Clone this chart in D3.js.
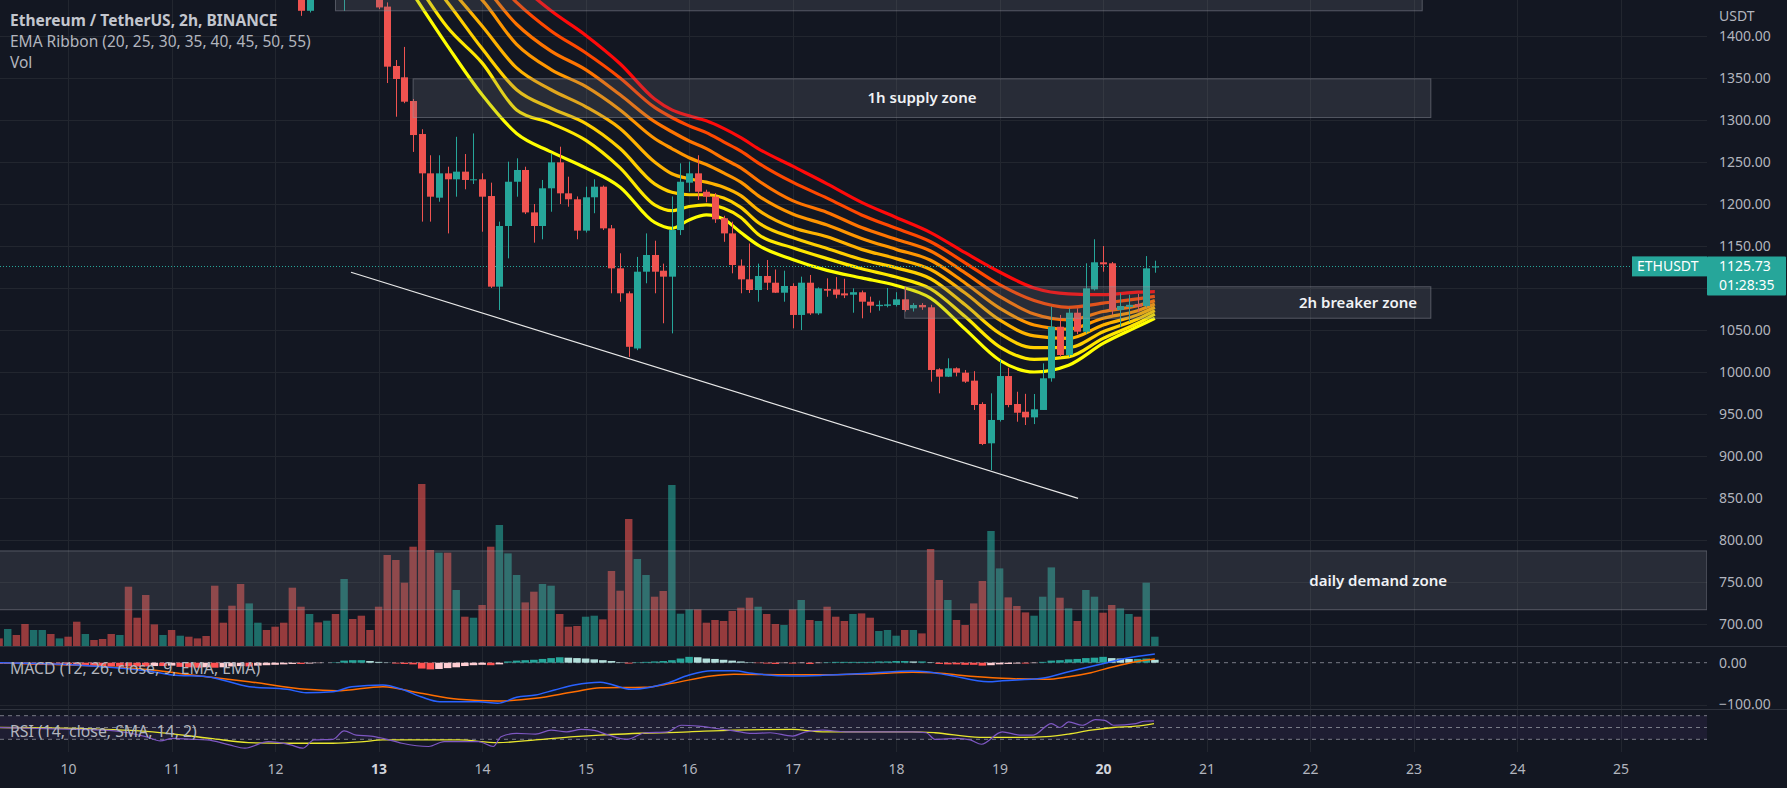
<!DOCTYPE html>
<html><head><meta charset="utf-8">
<script src="https://cdn.jsdelivr.net/npm/d3@7"></script>
<style>
html,body{margin:0;padding:0;background:#131722;overflow:hidden}
svg{display:block}
text{font-family:"Noto Sans","Open Sans",sans-serif}
</style></head><body>
<svg id="c" width="1787" height="788"></svg>
<script>
// ---------- DATA (bar index k: 2h bars, k=0 = Jun 10 00:00) ----------
const firstBar = -8;
const opens = [1795,1790,1797,1786,1765,1779,1788,1776,1785,1774,1735,1746,1740,1734,1720,1731,1680,1668,1652,1646,1658,1651,1657,1649,1645,1640,1590,1578,1552,1520,1552,1565,1556,1545,1528,1478,1430,1462,1455,1482,1466,1478,1462,1452,1448,1435,1364.3,1350.8,1322.6,1283.3,1236.5,1207.5,1236.5,1229.4,1238.5,1228.6,1229.4,1209.5,1101.6,1173.8,1226.5,1240.5,1190,1173.8,1218.7,1249.6,1212.7,1205.6,1168.3,1208,1220.6,1171,1123.4,1093.7,1028,1119.4,1139.3,1120.6,1113.5,1169,1225.4,1236.5,1214.6,1208.7,1183,1165,1126.6,1110.3,1097.6,1114.3,1106.3,1094.4,1102.4,1067.9,1106.3,1069.8,1098.8,1098.4,1093.6,1092,1094.9,1083.7,1078.4,1078.8,1079.8,1086.5,1075.8,1079.8,1077,1003.2,994.4,1004.4,999.2,989.7,961.9,915.1,942.9,995.2,961.9,952.7,946,954.8,992.5,1053.9,1020.2,1070.6,1048,1098.4,1130.6,1129.4,1073.8,1077.4,1080.9,1078.6,1124.5];
const highs = [1802,1800,1799,1790,1784,1792,1790,1789,1787,1776,1752,1748,1744,1738,1736,1733,1690,1672,1660,1662,1661,1660,1659,1652,1650,1642,1598,1582,1556,1560,1572,1568,1560,1548,1530,1482,1470,1475,1490,1486,1490,1482,1468,1460,1452,1440,1371.4,1387,1325,1289,1258,1258,1244.4,1280,1259.5,1284,1236.5,1225.4,1179,1250.4,1254.4,1244.4,1200,1228.6,1260,1268.2,1232.5,1209,1220.6,1229.4,1222,1175,1141.3,1096,1137,1165,1156.3,1129,1209,1248.4,1250.4,1258,1217,1213,1186,1179,1134,1153,1129,1133.3,1122,1120.6,1105.6,1113.5,1115.5,1100.8,1111.5,1113,1111,1099.6,1097,1089.7,1085,1100,1095,1100.8,1082,1082,1080,1004.5,1016.3,1005.5,1002.4,1001,964,974.6,1014.3,1005,976.5,974,973.8,1010.3,1077.8,1067.9,1075.8,1075.8,1129.4,1158,1150,1131,1093.7,1092,1093,1138,1132.5];
const lows = [1786,1785,1783,1760,1762,1775,1772,1774,1770,1728,1730,1736,1730,1715,1718,1672,1662,1640,1641,1644,1648,1649,1645,1641,1635,1580,1570,1545,1510,1518,1548,1550,1540,1520,1470,1424,1428,1450,1452,1462,1430,1455,1448,1444,1432,1344,1303.9,1320,1262,1179,1179,1202.7,1165,1208.7,1217.5,1223.8,1167,1100,1073.8,1135.3,1208.7,1188,1154,1158,1190.8,1200,1196.8,1158,1166,1189,1169,1093.7,1083.7,1018,1026,1105.6,1093.7,1058,1046,1163,1214.6,1204.8,1202,1177.5,1155,1117.5,1093.7,1094,1083.7,1097.6,1094,1083.7,1052,1050,1068,1068,1089.6,1087.7,1088,1070.6,1063.9,1070.6,1073,1077,1078,1072,1072,1074,988.5,974.6,994,994.8,987,954.8,913,883.3,941,958,940.8,936.9,938,954.8,988.5,1018,1018,1045,1046,1097,1119.4,1067.9,1054,1059.9,1071,1077,1118.2];
const closes = [1790,1797,1786,1765,1779,1788,1776,1785,1774,1735,1746,1740,1734,1720,1731,1680,1668,1652,1646,1658,1651,1657,1649,1645,1640,1590,1578,1552,1520,1552,1565,1556,1545,1528,1478,1430,1462,1455,1482,1468,1478,1462,1452,1448,1434,1363.5,1348.8,1321.8,1282.1,1236.5,1208.7,1236.5,1229.4,1238.5,1228.6,1229.4,1208.7,1101.6,1173.8,1226.5,1240.5,1190,1173.8,1218.7,1249.6,1212.7,1205.6,1168.3,1208,1220.6,1171,1123.4,1093.7,1030,1119.4,1139.3,1119.4,1113.5,1169,1226.5,1236.5,1214.6,1208.7,1181.7,1165,1127.4,1110.3,1097.6,1114.3,1106.3,1094.4,1102.4,1067.9,1106.3,1069.8,1099.6,1096.8,1092,1091.2,1095,1083.7,1079,1080,1080.5,1086.5,1073.8,1079.8,1077,1002.4,994.4,1004.4,999.2,988.5,960.7,914.3,942.9,995.2,960.7,951.5,946,955.6,992.5,1053.9,1020.2,1070.6,1048,1099.6,1130.6,1128.2,1073.8,1078.6,1080,1078,1123.4,1125.73];
const volumes = [8.3,17.7,11.7,22.7,16.7,16.7,12.7,8.3,10,25,12.7,6.7,7.7,12.7,11.7,60,29,51.7,22.3,11.7,16.7,11,10,8.3,10.7,61,24,41,62.7,43.3,24,16.7,20,24,59,40,32.7,24.3,26,32.7,67.7,27.7,31,16.7,40,91.7,86.7,64,100,162.7,96.7,94,94,56.7,30,29,41.7,100,121.7,93.3,71.7,44.3,55,62.7,61,32.7,20,20.7,30,31,27.3,75.7,56,127.7,87.7,71.7,50,55.7,161.7,33,37.3,37.3,24,26.7,25.7,35.7,39,49,40,32.7,22.7,21.7,37.3,46.7,26.7,25.7,40,30,25.7,32.7,33.3,29,15.7,16.7,11,16.7,16.7,13.3,97.7,66.7,46.7,26.7,21.7,43.3,65.7,115.7,78.3,49.3,40.7,34.3,31,50,79.3,49,38.3,25.7,56.7,50,34,41.7,38.3,32.7,30,64,10];
const macdHist = [-3,-3,-3,-4,-5,-5,-6,-6,-6,-7,-7,-8,-8,-8,-9,-9,-9,-9,-8,-8,-7,-10,-11,-12,-11,-12,-11,-9,-8,-9,-7,-6,-5,-4,-3,-3,-2,-1,0,1,5,6,6,4,2,0.5,-2,-3,-4,-14,-16,-15,-13,-11,-8,-6,-5,-6,-4,3,5,6,7,9,11,13,12,11,10,8,6,4,1,-2,1,2,3,4,6,10,14,13,10,9,7,5,3,1,-1,-2,-3,-1,-2,-1,-3,-1,1,2,2,2,2,2,3,3,4,4,3,3,1,-3,-4,-4,-5,-5,-7,-6,-4,-3,-2,-2,-1,2,5,6,8,9,11,12,14,11,10,9,9,10,7];

const macdLine = [[-8,0],[1,-5.5],[9.8,-21.5],[12.1,-29.4],[16.1,-33.5],[21,-57.4],[25.4,-63.6],[27.6,-71.8],[30.7,-69.4],[32.9,-57.4],[36.5,-53.3],[38.7,-63.6],[40.9,-81.3],[43.1,-93.3],[47.6,-93.3],[49.8,-97.2],[52,-82.8],[54.2,-77.3],[56.4,-65.3],[58.7,-53.3],[61.7,-46.5],[65.3,-63.6],[69.4,-49.3],[72,-29.4],[74.6,-19.1],[77.2,-19.1],[79.3,-25.4],[83.9,-31.8],[87.5,-30.2],[92.7,-25.4],[97.9,-19.9],[99.5,-21.5],[102,-29.4],[106.7,-45.5],[108.3,-43.1],[112.9,-37.3],[116,-21.5],[120.2,-1.4],[122.7,10.5],[126,20.8]];
const signalLine = [[-8,0],[9.8,-17.5],[14.3,-29.4],[21,-45.5],[27.6,-63.6],[31.1,-67],[36.5,-57.4],[40.9,-73.2],[45.3,-87.6],[49.8,-91.6],[54.2,-85.2],[58.7,-69.4],[61.7,-60],[66.8,-58.9],[70,-49.3],[74.6,-31.8],[77.2,-27.8],[82.4,-28.6],[87.5,-28.6],[92.7,-27],[97.9,-23],[100.5,-23.9],[103.1,-29.4],[108.3,-37.3],[113.4,-39.7],[116,-33.5],[118.6,-23.9],[121.2,-9.6],[123.8,2.4],[126,8.9]];
const rsiLine = [[-8,50],[-3.5,48.3],[1,46.7],[5.4,44.4],[9,34.4],[10.7,27.2],[12.1,31.6],[14.3,30],[16.1,28.9],[18.7,20.5],[20.5,15],[23.2,26.1],[25.8,20.5],[27.2,15],[28.5,28.9],[30.7,30],[32,44.4],[33.4,37.2],[35.1,35.5],[36.5,31.6],[38.7,23.3],[41.8,17.8],[43.6,26.1],[47.6,26.1],[49.3,17.8],[50.2,34.4],[52,40],[54.2,38.9],[56,45.5],[57.8,42.7],[59.5,46.7],[61,45],[62.5,38],[64.8,30],[66.9,41.1],[69.5,42.7],[71.1,53.8],[73.1,52.2],[75.2,48.3],[77.2,44.4],[79.3,40],[81.4,41.1],[84,35.5],[85.5,42.7],[87.5,45.5],[90.1,42.7],[92.7,42.7],[97.9,42.7],[99.5,41.1],[100.5,30],[103.1,31.6],[104.6,28.9],[105.9,21.6],[108.3,42.7],[110.3,37.2],[111.9,37.2],[114,56.7],[115,50],[116,59.4],[117.6,53.8],[119.1,63.3],[120.2,62.2],[121.2,53.8],[123.8,56.7],[124.8,60.6],[125.9,61.1]];
const rsiMA = [[-8,50],[1,48.3],[9.8,42.7],[16.5,31.6],[20.9,24.4],[25.4,23.3],[30.7,23.3],[34.3,26.1],[36.5,28.9],[40.9,28.9],[45.3,28.9],[49.8,24.4],[54.2,28.9],[58.7,34.4],[61.7,37.2],[72,42.7],[77.2,45.5],[84,46.7],[87.5,42.7],[97.9,42.7],[100.5,41.1],[105.7,33.3],[110.9,33.3],[113.4,34.4],[116,38.9],[118.6,45.5],[121.2,50],[123.8,52.2],[125.9,56.7]];

// EMA ribbon values read at bar index
const ribbonBars = [40,44,48,52,56,60,64,68,70,72,74,76,78,80,84,88,92,96,100,104,108,112,116,120,124,126];
const ema20 = [1450,1388,1330,1284,1262,1243,1220,1178,1171,1181,1187,1182,1166,1151,1134,1121,1112,1103,1088,1051,1014,1000,1008,1034,1054,1064];
const ema25 = [1470,1410,1368,1312,1296,1276,1243,1199,1192,1197,1199,1195,1184,1164,1148,1135,1123,1113,1099,1066,1030,1015,1018,1040,1058,1069];
const ema30 = [1490,1440,1385,1336,1314,1296,1266,1224,1214,1211,1211,1207,1196,1178,1160,1147,1134,1124,1111,1080,1046,1029,1029,1048,1063,1073];
const ema35 = [1505,1460,1412,1362,1336,1316,1290,1250,1236,1230,1226,1220,1210,1193,1172,1161,1146,1135,1122,1094,1062,1043,1040,1056,1068,1077];
const ema40 = [1515,1480,1443,1390,1360,1340,1312,1278,1266,1255,1247,1237,1226,1210,1188,1175,1159,1146,1133,1106,1076,1056,1051,1064,1073,1081];
const ema45 = [1525,1500,1462,1414,1382,1360,1330,1298,1286,1275,1266,1254,1243,1228,1204,1190,1172,1158,1144,1118,1090,1069,1062,1072,1079,1085];
const ema50 = [1540,1518,1485,1440,1406,1380,1350,1315,1303,1293,1285,1274,1263,1249,1226,1207,1187,1171,1155,1130,1104,1085,1077,1082,1087,1090];
const ema55 = [1560,1535,1510,1465,1430,1401,1367,1325,1312,1305,1299,1290,1279,1266,1245,1224,1202,1184,1166,1142,1119,1100,1093,1092,1095,1095.6];
const ribbonColors = ['#ffff00','#ffe800','#ffcf00','#ffb300','#ff9600','#ff7400','#ff4800','#ff0a0a'];

const days = [10,11,12,13,14,15,16,17,18,19,20,21,22,23,24,25];
const boldDays = [13,20];
const priceTicks = [1400,1350,1300,1250,1200,1150,1050,1000,950,900,850,800,750,700];
const priceGrid = [1400,1350,1300,1250,1200,1150,1100,1050,1000,950,900,850,800,750,700];
const zones = [
  {label:'', k0:31, k1:157, p0:1430, p1:1520},
  {label:'1h supply zone', k0:40, k1:158, p0:1303, p1:1349, lk:99, anchor:'middle'},
  {label:'2h breaker zone', k0:97, k1:158, p0:1064, p1:1101.5, lk:156.4, anchor:'end'},
  {label:'daily demand zone', k0:-8, k1:190, p0:717, p1:787, lk:151.9, anchor:'middle'}
];
const trendLine = [[32.8,1118.7],[117.1,849.6]];
const lastPrice = 1125.73;
const countdown = '01:28:35';

// ---------- LAYOUT ----------
const W=1787, H=788, PR=1707, MAIN_B=646.5, MACD_T=646.5, MACD_B=709.5, RSI_B=752;
const svg = d3.select('#c');
const x = d3.scaleLinear().domain([0,120]).range([68.1,1103.1]);
const xDay = d3.scaleLinear().domain([10,20]).range([x(0),x(120)]);
const y = d3.scaleLinear().domain([1000,1400]).range([372,36]);
const yVol = d3.scaleLinear().domain([0,100]).range([646.7,546.7]);
const yMacd = d3.scaleLinear().domain([0,-100]).range([662.7,704.5]);
const yRsi = d3.scaleLinear().domain([30,70]).range([739.3,715.7]);
const bw = (x(1)-x(0));

svg.append('rect').attr('width',W).attr('height',H).attr('fill','#131722');
const defs = svg.append('defs');
defs.append('clipPath').attr('id','cm').append('rect').attr('x',0).attr('y',0).attr('width',PR).attr('height',MAIN_B);
defs.append('clipPath').attr('id','cd').append('rect').attr('x',0).attr('y',MACD_T+0.5).attr('width',PR).attr('height',MACD_B-MACD_T-1);
defs.append('clipPath').attr('id','cr').append('rect').attr('x',0).attr('y',MACD_B+0.5).attr('width',PR).attr('height',RSI_B-MACD_B-0.5);

// grid
const grid = svg.append('g');
grid.selectAll('.hg').data(priceGrid).join('line')
  .attr('x1',0).attr('x2',PR).attr('y1',d=>Math.round(y(d))+0.5).attr('y2',d=>Math.round(y(d))+0.5)
  .attr('stroke','#22262f').attr('stroke-width',1);
grid.append('line').attr('x1',0).attr('x2',PR).attr('y1',Math.round(yMacd(-100))+0.5).attr('y2',Math.round(yMacd(-100))+0.5).attr('stroke','#22262f');
grid.selectAll('.vg').data(days).join('line')
  .attr('x1',d=>Math.round(xDay(d))+0.5).attr('x2',d=>Math.round(xDay(d))+0.5).attr('y1',0).attr('y2',RSI_B)
  .attr('stroke','#22262f').attr('stroke-width',1);

const bars = d3.range(opens.length).map(i=>({k:i+firstBar,o:opens[i],h:highs[i],l:lows[i],c:closes[i],v:volumes[i],m:macdHist[i]}));
const up = d=>d.c>=d.o;

// main pane
const main = svg.append('g').attr('clip-path','url(#cm)');
// volume
main.append('g').selectAll('rect').data(bars).join('rect')
  .attr('x',d=>x(d.k)-bw*0.43).attr('width',bw*0.86)
  .attr('y',d=>yVol(d.v)).attr('height',d=>yVol(0)-yVol(d.v))
  .attr('fill',d=>up(d)?'#26a69a':'#ef5350').attr('fill-opacity',0.6);
// ribbons
const ribbons = [ema20,ema25,ema30,ema35,ema40,ema45,ema50,ema55];
const rline = d3.line().x((d,i)=>x(ribbonBars[i])).y(d=>y(d)).curve(d3.curveMonotoneX);
main.append('g').selectAll('path').data(ribbons.slice().reverse()).join('path')
  .attr('d',d=>rline(d)).attr('fill','none')
  .attr('stroke',(d,i)=>ribbonColors[7-i]).attr('stroke-width',3.2).attr('stroke-linejoin','round');
// last price line
main.append('line').attr('x1',0).attr('x2',PR).attr('y1',Math.round(y(lastPrice))+0.5).attr('y2',Math.round(y(lastPrice))+0.5)
  .attr('stroke','#26a69a').attr('stroke-dasharray','1,2').attr('stroke-width',1);
// candles
const cg = main.append('g');
cg.selectAll('line').data(bars).join('line')
  .attr('x1',d=>Math.round(x(d.k))+0.5).attr('x2',d=>Math.round(x(d.k))+0.5)
  .attr('y1',d=>y(d.h)).attr('y2',d=>y(d.l))
  .attr('stroke',d=>up(d)?'#26a69a':'#ef5350').attr('stroke-width',1);
cg.selectAll('rect').data(bars).join('rect')
  .attr('x',d=>Math.round(x(d.k))-3).attr('width',7)
  .attr('y',d=>y(Math.max(d.o,d.c))).attr('height',d=>Math.max(1,Math.abs(y(d.o)-y(d.c))))
  .attr('fill',d=>up(d)?'#26a69a':'#ef5350');
// zones
main.append('g').selectAll('rect').data(zones).join('rect')
  .attr('x',d=>x(d.k0)).attr('width',d=>x(d.k1)-x(d.k0))
  .attr('y',d=>y(d.p1)).attr('height',d=>y(d.p0)-y(d.p1))
  .attr('fill','rgba(120,123,134,0.22)').attr('stroke','rgba(150,153,164,0.45)').attr('stroke-width',1);
// trend line
main.append('line').attr('x1',x(trendLine[0][0])).attr('y1',y(trendLine[0][1]))
  .attr('x2',x(trendLine[1][0])).attr('y2',y(trendLine[1][1]))
  .attr('stroke','#e8e8e8').attr('stroke-width',1.2);
// zone labels
main.append('g').selectAll('text').data(zones.filter(z=>z.label)).join('text')
  .attr('x',d=>x(d.lk)).attr('y',d=>(y(d.p0)+y(d.p1))/2).attr('dy','0.35em')
  .attr('text-anchor',d=>d.anchor).attr('fill','#f0f2f5').attr('font-size',15).attr('font-weight',600)
  .text(d=>d.label);

// pane separators
svg.append('line').attr('x1',0).attr('x2',W).attr('y1',MAIN_B).attr('y2',MAIN_B).attr('stroke','#2e323d');
svg.append('line').attr('x1',0).attr('x2',W).attr('y1',MACD_B).attr('y2',MACD_B).attr('stroke','#2e323d');

// MACD pane
const mg = svg.append('g').attr('clip-path','url(#cd)');
mg.append('line').attr('x1',0).attr('x2',PR).attr('y1',yMacd(0)).attr('y2',yMacd(0)).attr('stroke','#787b86').attr('stroke-dasharray','4,4');
mg.append('g').selectAll('rect').data(bars).join('rect')
  .attr('x',d=>x(d.k)-bw*0.44).attr('width',bw*0.88)
  .attr('y',d=>Math.min(yMacd(0),yMacd(d.m))).attr('height',d=>Math.abs(yMacd(d.m)-yMacd(0)))
  .attr('fill',(d,i)=>{const p=i>0?bars[i-1].m:d.m; if(d.m>=0) return d.m>=p?'#26a69a':'#b2dfdb'; return d.m<=p?'#ff5252':'#ffcdd2';});
const ml = d3.line().x(d=>x(d[0])).y(d=>yMacd(d[1])).curve(d3.curveMonotoneX);
mg.append('path').attr('d',ml(signalLine)).attr('fill','none').attr('stroke','#ff6d00').attr('stroke-width',1.5);
mg.append('path').attr('d',ml(macdLine)).attr('fill','none').attr('stroke','#2962ff').attr('stroke-width',1.5);

// RSI pane
const rg = svg.append('g').attr('clip-path','url(#cr)');
rg.append('rect').attr('x',0).attr('width',PR).attr('y',yRsi(70)).attr('height',yRsi(30)-yRsi(70)).attr('fill','rgba(126,87,194,0.1)');
rg.selectAll('.rl').data([70,50,30]).join('line').attr('x1',0).attr('x2',PR).attr('y1',d=>yRsi(d)).attr('y2',d=>yRsi(d))
  .attr('stroke','#787b86').attr('stroke-dasharray','4,4');
const rl = d3.line().x(d=>x(d[0])).y(d=>yRsi(d[1])).curve(d3.curveMonotoneX);
rg.append('path').attr('d',rl(rsiMA)).attr('fill','none').attr('stroke','#e8e62e').attr('stroke-width',1.3);
rg.append('path').attr('d',rl(rsiLine)).attr('fill','none').attr('stroke','#7e57c2').attr('stroke-width',1.2);

// price axis
const pa = svg.append('g').attr('transform',`translate(${PR},0)`)
  .call(d3.axisRight(y).tickValues(priceTicks).tickFormat(d3.format('.2f')).tickSize(0).tickPadding(12));
pa.select('.domain').remove();
pa.selectAll('text').attr('fill','#b2b5be').attr('font-size',14).attr('font-family','"Noto Sans",sans-serif');
svg.append('text').attr('x',PR+12).attr('y',16).attr('dy','0.35em').attr('fill','#b2b5be').attr('font-size',14).text('USDT');
const ma = svg.append('g').attr('transform',`translate(${PR},0)`)
  .call(d3.axisRight(yMacd).tickValues([0,-100]).tickFormat(d3.format('.2f')).tickSize(0).tickPadding(12));
ma.select('.domain').remove();
ma.selectAll('text').attr('fill','#b2b5be').attr('font-size',14).attr('font-family','"Noto Sans",sans-serif');

// last price labels
const ly = y(lastPrice);
svg.append('rect').attr('x',1632).attr('y',ly-10).attr('width',PR-1632).attr('height',20).attr('fill','#26a69a');
svg.append('rect').attr('x',PR).attr('y',ly-10).attr('width',W-PR-1).attr('height',39).attr('fill','#26a69a').attr('rx',1);
svg.append('text').attr('x',1637).attr('y',ly).attr('dy','0.35em').attr('fill','#fff').attr('font-size',14).text('ETHUSDT');
svg.append('text').attr('x',PR+12).attr('y',ly).attr('dy','0.35em').attr('fill','#fff').attr('font-size',14).text(d3.format('.2f')(lastPrice));
svg.append('text').attr('x',PR+12).attr('y',ly+19).attr('dy','0.35em').attr('fill','#fff').attr('font-size',14).text(countdown);

// time axis
const ta = svg.append('g').attr('transform',`translate(0,${RSI_B})`)
  .call(d3.axisBottom(xDay).tickValues(days).tickFormat(d3.format('d')).tickSize(0).tickPadding(12));
ta.select('.domain').remove();
ta.selectAll('text').attr('font-size',14).attr('font-family','"Noto Sans",sans-serif')
  .attr('fill',d=>boldDays.includes(d)?'#d1d4dc':'#b2b5be').attr('font-weight',d=>boldDays.includes(d)?700:400);

// legends
const lg = svg.append('g');
lg.append('text').attr('x',10).attr('y',21).attr('dy','0.35em').attr('fill','#c3c6ce').attr('font-size',15.5).attr('font-weight',700).text('Ethereum / TetherUS, 2h, BINANCE');
lg.append('text').attr('x',10).attr('y',42).attr('dy','0.35em').attr('fill','#b2b5be').attr('font-size',15.5).text('EMA Ribbon (20, 25, 30, 35, 40, 45, 50, 55)');
lg.append('text').attr('x',10).attr('y',63).attr('dy','0.35em').attr('fill','#b2b5be').attr('font-size',15.5).text('Vol');
lg.append('text').attr('x',10).attr('y',668).attr('dy','0.35em').attr('fill','#b2b5be').attr('font-size',15.8).text('MACD (12, 26, close, 9, EMA, EMA)');
lg.append('text').attr('x',10).attr('y',731).attr('dy','0.35em').attr('fill','#b2b5be').attr('font-size',15.8).text('RSI (14, close, SMA, 14, 2)');
</script></body></html>
